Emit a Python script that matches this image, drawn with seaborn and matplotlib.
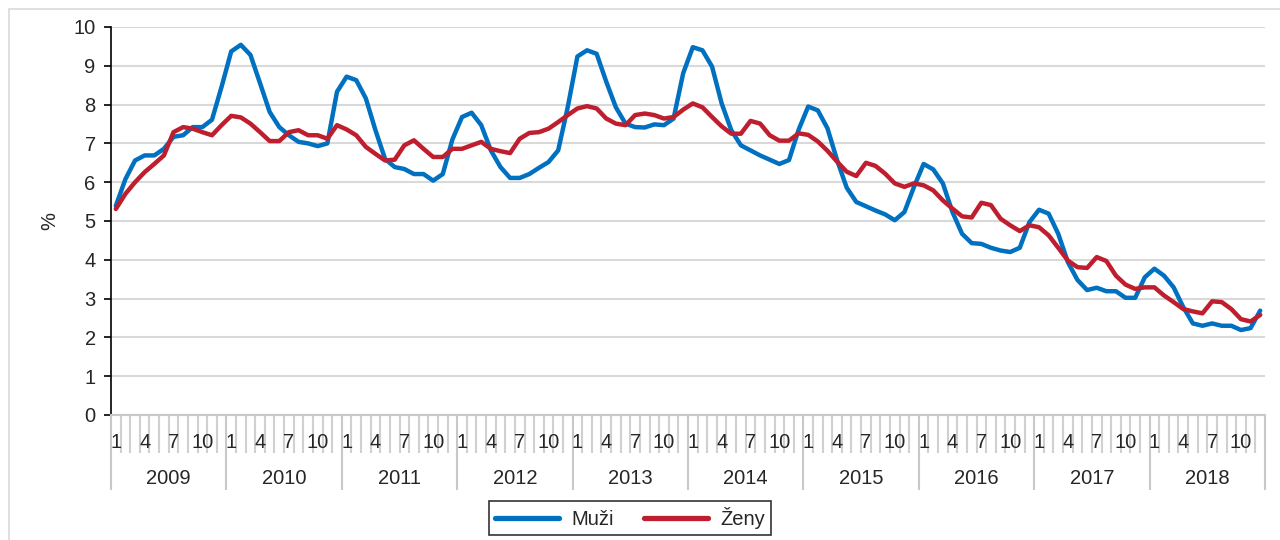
import numpy as np
import pandas as pd
import matplotlib
matplotlib.use("Agg")
import matplotlib.pyplot as plt
import matplotlib.transforms as mtransforms
from matplotlib.patches import Rectangle
import seaborn as sns

# Data (monthly, %)
years = [2009, 2010, 2011, 2012, 2013, 2014, 2015, 2016, 2017, 2018]
month_labels = ["1", "4", "7", "10"]
month_label_pos = [0, 3, 6, 9]

muzi = [
    5.39, 6.08, 6.56, 6.69, 6.69, 6.86, 7.17, 7.21, 7.42, 7.42, 7.61, 8.46,
    9.37, 9.54, 9.28, 8.55, 7.81, 7.42, 7.21, 7.04, 7.00, 6.93, 7.00, 8.33,
    8.72, 8.63, 8.16, 7.34, 6.60, 6.39, 6.34, 6.21, 6.21, 6.04, 6.21, 7.10,
    7.68, 7.79, 7.47, 6.82, 6.39, 6.11, 6.11, 6.21, 6.37, 6.52, 6.82, 7.94,
    9.24, 9.40, 9.31, 8.59, 7.93, 7.51, 7.42, 7.41, 7.49, 7.47, 7.64, 8.81,
    9.48, 9.40, 8.98, 8.03, 7.34, 6.95, 6.82, 6.69, 6.58, 6.47, 6.57, 7.35,
    7.95, 7.85, 7.39, 6.57, 5.86, 5.49, 5.38, 5.27, 5.17, 5.02, 5.23, 5.88,
    6.47, 6.33, 5.97, 5.23, 4.67, 4.43, 4.41, 4.31, 4.24, 4.20, 4.31, 4.97,
    5.29, 5.19, 4.67, 3.94, 3.48, 3.22, 3.28, 3.19, 3.19, 3.02, 3.02, 3.55,
    3.77, 3.59, 3.29, 2.78, 2.36, 2.30, 2.36, 2.30, 2.30, 2.19, 2.24, 2.69,
]

zeny = [
    5.31, 5.70, 6.00, 6.26, 6.47, 6.69, 7.29, 7.42, 7.38, 7.29, 7.21, 7.47,
    7.71, 7.67, 7.51, 7.29, 7.06, 7.06, 7.29, 7.34, 7.21, 7.21, 7.12, 7.47,
    7.36, 7.21, 6.91, 6.73, 6.56, 6.58, 6.95, 7.08, 6.86, 6.65, 6.65, 6.86,
    6.86, 6.95, 7.04, 6.86, 6.80, 6.75, 7.12, 7.27, 7.29, 7.38, 7.55, 7.73,
    7.90, 7.96, 7.90, 7.64, 7.51, 7.47, 7.73, 7.77, 7.73, 7.64, 7.68, 7.87,
    8.03, 7.93, 7.68, 7.44, 7.25, 7.25, 7.58, 7.51, 7.21, 7.07, 7.07, 7.26,
    7.22, 7.05, 6.81, 6.53, 6.27, 6.16, 6.50, 6.42, 6.22, 5.97, 5.88, 5.97,
    5.92, 5.79, 5.53, 5.32, 5.12, 5.09, 5.47, 5.41, 5.06, 4.89, 4.74, 4.89,
    4.84, 4.63, 4.31, 3.98, 3.81, 3.79, 4.07, 3.97, 3.59, 3.36, 3.25, 3.29,
    3.29, 3.08, 2.91, 2.73, 2.67, 2.62, 2.93, 2.91, 2.73, 2.47, 2.41, 2.58,
]

n = len(muzi)
df = pd.DataFrame({
    "t": list(range(n)) * 2,
    "value": muzi + zeny,
    "series": ["Muži"] * n + ["Ženy"] * n,
})

sns.set_style("white")
plt.rcParams["font.family"] = ["Liberation Sans", "DejaVu Sans"]
fs = 14.5

fig = plt.figure(figsize=(12.8, 5.4), dpi=100)
ax = fig.add_axes([111 / 1280, 1 - 415 / 540, 1154 / 1280, 388 / 540])

# light outer chart border
fig.patches.append(Rectangle((9 / 1280, -0.05), 1.1, 1 - 9 / 540 + 0.05,
                             transform=fig.transFigure, fill=False,
                             edgecolor="#d9d9d9", linewidth=1.2))

sns.lineplot(data=df, x="t", y="value", hue="series",
             palette={"Muži": "#0070C0", "Ženy": "#BE1E2D"},
             linewidth=3.2, ax=ax)

ax.set_xlim(-0.5, n - 0.5)
ax.set_ylim(0, 10)
ax.set_yticks(range(0, 11))
ax.yaxis.grid(True, color="#d9d9d9", linewidth=1.5)
ax.set_axisbelow(True)

for s in ["top", "right"]:
    ax.spines[s].set_visible(False)
ax.spines["left"].set_color("black")
ax.spines["left"].set_linewidth(1.2)
ax.spines["bottom"].set_color("#c8c8c8")
ax.spines["bottom"].set_linewidth(1.5)

ax.tick_params(axis="y", left=True, length=5, width=1.2, color="black",
               labelsize=fs, pad=6)

# category axis: month boundaries (minor) and year boundaries (major)
ax.set_xticks([12 * k - 0.5 for k in range(len(years) + 1)])
ax.set_xticks([m - 0.5 for m in range(n + 1)], minor=True)
ax.set_xticklabels([])
ax.tick_params(axis="x", which="major", bottom=True, length=54, width=1.5,
               color="#c8c8c8", direction="out")
ax.tick_params(axis="x", which="minor", bottom=True, length=27, width=1.5,
               color="#d0d0d0", direction="out")

trans = mtransforms.blended_transform_factory(ax.transData, ax.transAxes)
for k, yr in enumerate(years):
    for lab, pos in zip(month_labels, month_label_pos):
        ax.text(12 * k + pos, -0.07, lab, transform=trans,
                ha="center", va="center", fontsize=fs)
    ax.text(12 * k + 5.5, -0.163, str(yr), transform=trans,
            ha="center", va="center", fontsize=fs)

ax.set_xlabel("")
ax.set_ylabel("%", fontsize=fs, labelpad=10)

handles, labels = ax.get_legend_handles_labels()
ax.get_legend().remove()
leg = fig.legend(handles, labels, loc="center", ncol=2,
                 bbox_to_anchor=(630 / 1280, 1 - 518 / 540),
                 fontsize=fs, handlelength=3.2, handletextpad=0.6,
                 columnspacing=1.5, frameon=True, fancybox=False,
                 borderpad=0.3)
leg.get_frame().set_edgecolor("black")
leg.get_frame().set_linewidth(1.2)
for h in leg.get_lines():
    h.set_linewidth(3.8)
    h.set_solid_capstyle("round")

fig.savefig("out.png", dpi=100)
